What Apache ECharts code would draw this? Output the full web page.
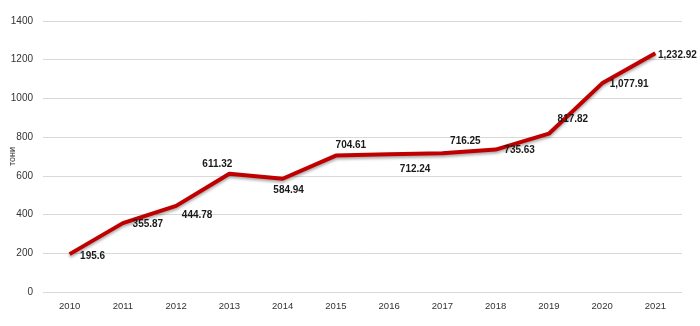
<!DOCTYPE html>
<html>
<head>
<meta charset="utf-8">
<script src="https://cdn.jsdelivr.net/npm/echarts@6/dist/echarts.min.js"></script>
<style>
  html, body { margin: 0; padding: 0; background: #fff; }
  #chart { width: 700px; height: 326px; }
</style>
</head>
<body>
<div id="chart"></div>
<script>
// Years on the category axis
const years = ['2010', '2011', '2012', '2013', '2014', '2015', '2016', '2017', '2018', '2019', '2020', '2021'];
// Volume per year, tonnes
const tonnes = [195.6, 355.87, 444.78, 611.32, 584.94, 704.61, 712.24, 716.25, 735.63, 817.82, 1077.91, 1232.92];
// Value-axis tick range
const yTicks = { min: 0, max: 1400, step: 200 };
// Label shift from each point [dx, dy], px
const labelShift = [
  [23, 2], [25, 1], [21, 9], [-12, -9], [6, 11], [15, -10],
  [26, 15], [23, -12], [24, 1], [24, -14], [27, 1], [22, 2]
];

const fmt = v => v.toLocaleString('en-US', { maximumFractionDigits: 2 });

const chart = echarts.init(document.getElementById('chart'), null, { renderer: 'canvas' });
chart.setOption({
  animation: false,
  backgroundColor: '#ffffff',
  grid: { left: 43, right: 18, top: 21, bottom: 34, containLabel: false, outerBoundsMode: 'none' },
  xAxis: {
    type: 'category',
    data: years,
    boundaryGap: true,
    axisLine: { show: false },
    axisTick: { show: false },
    axisLabel: {
      margin: 9,
      color: '#333333',
      fontSize: 9.5,
      fontFamily: '"Liberation Sans Narrow", "Arial Narrow", "Liberation Sans", sans-serif'
    }
  },
  yAxis: {
    type: 'value',
    min: yTicks.min,
    max: yTicks.max,
    interval: yTicks.step,
    name: 'тони',
    nameLocation: 'middle',
    nameGap: 26,
    nameRotate: 90,
    nameMoveOverlap: false,
    nameTextStyle: { color: '#333333', fontSize: 9, fontFamily: '"Liberation Sans", Arial, sans-serif' },
    axisLine: { show: false },
    axisTick: { show: false },
    axisLabel: {
      margin: 10,
      color: '#333333',
      fontSize: 10,
      fontFamily: '"Liberation Sans", Arial, sans-serif',
      formatter: v => String(v)
    },
    splitLine: { lineStyle: { color: '#d9d9d9', width: 1 } }
  },
  series: [{
    type: 'line',
    data: tonnes,
    symbol: 'circle',
    symbolSize: 1,
    showSymbol: true,
    smooth: false,
    lineStyle: {
      color: '#c00000',
      width: 4,
      shadowColor: 'rgba(0,0,0,0.35)',
      shadowBlur: 3,
      shadowOffsetY: 2
    },
    itemStyle: { color: 'transparent', borderWidth: 0 },
    label: {
      show: true,
      position: 'inside',
      align: 'center',
      verticalAlign: 'middle',
      color: '#1a1a1a',
      fontSize: 10,
      fontWeight: 'bold',
      fontFamily: '"Liberation Sans", Arial, sans-serif',
      formatter: p => fmt(p.value)
    },
    labelLayout: p => ({
      dx: labelShift[p.dataIndex][0],
      dy: labelShift[p.dataIndex][1],
      hideOverlap: false
    })
  }]
});
</script>
</body>
</html>
